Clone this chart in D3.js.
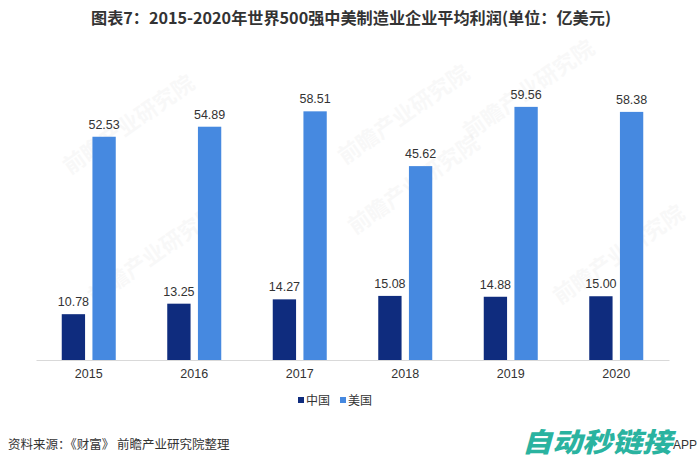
<!DOCTYPE html>
<html><head><meta charset="utf-8">
<script src="https://cdn.jsdelivr.net/npm/d3@7"></script>
<style>body{margin:0;background:#fff;}svg{display:block;}</style>
</head><body>
<svg id="c" width="700" height="465"></svg>
<script>
const years = ["2015","2016","2017","2018","2019","2020"];
const seriesNames = ["中国","美国"];
const china = [10.78, 13.25, 14.27, 15.08, 14.88, 15.00];
const usa = [52.53, 54.89, 58.51, 45.62, 59.56, 58.38];
const colors = ["#0f2c7e", "#4689e0"];

const svg = d3.select("#c");
const font = "'Liberation Sans', Arial, sans-serif";
const cjk = "'Noto Sans CJK SC', sans-serif";

const x = d3.scaleBand().domain(years).range([36, 669]).paddingInner(0).paddingOuter(0);
const y = d3.scaleLinear().domain([0, 60]).range([360, 105]);
const inner = d3.scaleBand().domain([0,1]).range([x.bandwidth()/2 - 27, x.bandwidth()/2 + 27]).paddingInner(0.24);

// faint watermarks
const wm = [[70,175],[345,165],[470,140],[560,305],[95,305],[355,235]];
svg.append("g").selectAll("text").data(wm).join("text")
  .attr("transform", d => `translate(${d[0]},${d[1]}) rotate(-35)`)
  .attr("font-family", cjk).attr("font-weight","bold").attr("font-size", 22)
  .attr("fill", "#000").attr("opacity", 0.025).text("前瞻产业研究院");

// title
svg.append("text").attr("x", 351).attr("y", 24).attr("text-anchor","middle")
  .attr("font-family", cjk).attr("font-weight","bold").attr("font-size", 16)
  .attr("fill","#333").attr("textLength", 520).attr("lengthAdjust","spacingAndGlyphs")
  .text("图表7：2015-2020年世界500强中美制造业企业平均利润(单位：亿美元)");

const data = [china, usa];
const g = svg.append("g");
data.forEach((vals, si) => {
  g.selectAll(".b"+si).data(vals).join("rect")
    .attr("x", (d,i) => x(years[i]) + inner(si))
    .attr("width", inner.bandwidth())
    .attr("y", d => y(d))
    .attr("height", d => y(0) - y(d))
    .attr("fill", colors[si]);
  g.selectAll(".l"+si).data(vals).join("text")
    .attr("x", (d,i) => x(years[i]) + inner(si) + inner.bandwidth()/2)
    .attr("y", d => y(d) - 8)
    .attr("text-anchor","middle").attr("font-family", font).attr("font-size", 12.5)
    .attr("fill","#333").text(d => d.toFixed(2));
});

// axis
const ax = svg.append("g").attr("transform", `translate(0,${y(0)})`)
  .call(d3.axisBottom(x).tickSize(0).tickPadding(9));
ax.select(".domain").attr("stroke","#d9d9d9");
ax.selectAll("text").attr("font-family", font).attr("font-size", 12.5).attr("fill","#333");

// legend
const lg = svg.append("g").attr("transform","translate(298,400)");
const items = [{n:seriesNames[0],c:colors[0],x:0},{n:seriesNames[1],c:colors[1],x:42}];
items.forEach(it => {
  lg.append("rect").attr("x", it.x).attr("y", -3).attr("width", 6).attr("height", 6).attr("fill", it.c);
  lg.append("text").attr("x", it.x + 8).attr("y", 4.5).attr("font-family", cjk)
    .attr("font-size", 12).attr("fill","#333").text(it.n);
});

// footer
svg.append("text").attr("x", 8).attr("y", 449).attr("font-family", cjk).attr("font-size", 12.5)
  .attr("fill","#333").text("资料来源：《财富》 前瞻产业研究院整理");
svg.append("text").attr("x", 697).attr("y", 449).attr("text-anchor","end").attr("font-family", font)
  .attr("font-size", 12).attr("fill","#333").text("APP");
svg.append("text").attr("x", 522).attr("y", 452).attr("font-family", cjk).attr("font-weight","900")
  .attr("font-style","italic").attr("font-size", 27).attr("fill","#2ab3a0")
  .attr("textLength", 150).attr("lengthAdjust","spacingAndGlyphs").text("自动秒链接");
</script>
</body></html>
